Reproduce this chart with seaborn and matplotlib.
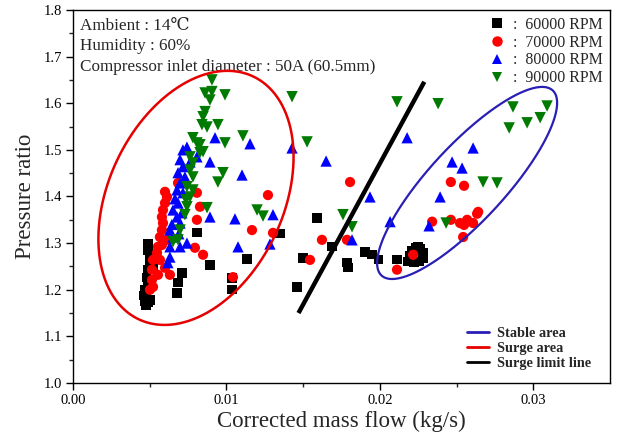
import numpy as np
import pandas as pd
import matplotlib
matplotlib.use("Agg")
import matplotlib.pyplot as plt
from matplotlib.lines import Line2D
import seaborn as sns

# ---------------- data ----------------
rpm_labels = ["60000 RPM", "70000 RPM", "80000 RPM", "90000 RPM"]

x_60k = [0.00489, 0.00489, 0.00502, 0.00502, 0.00489, 0.00482, 0.00489, 0.00469, 0.00482,
         0.00469, 0.00489, 0.00502, 0.00463, 0.00476, 0.00535, 0.00522, 0.00711, 0.00685,
         0.00678, 0.00808, 0.00893, 0.01134, 0.01037, 0.01037, 0.01350, 0.01500, 0.01460,
         0.01591, 0.01689, 0.01786, 0.01793, 0.01904, 0.01949, 0.01989, 0.02112, 0.02178,
         0.02197, 0.02210, 0.02236, 0.02262, 0.02282, 0.02282, 0.02256, 0.02223, 0.02249]
y_60k = [1.300, 1.285, 1.270, 1.258, 1.243, 1.227, 1.215, 1.200, 1.185,
         1.174, 1.172, 1.178, 1.187, 1.167, 1.275, 1.253, 1.236, 1.215,
         1.193, 1.322, 1.253, 1.266, 1.225, 1.200, 1.320, 1.268, 1.206,
         1.354, 1.292, 1.258, 1.247, 1.281, 1.275, 1.264, 1.264, 1.260,
         1.273, 1.283, 1.290, 1.288, 1.279, 1.268, 1.260, 1.258, 1.292]

x_70k = [0.00600, 0.00613, 0.00600, 0.00587, 0.00580, 0.00587, 0.00580, 0.00567, 0.00554,
         0.00548, 0.00522, 0.00515, 0.00515, 0.00522, 0.00502, 0.00567, 0.00600, 0.00554,
         0.00632, 0.00580, 0.00619, 0.00685, 0.00808, 0.00828, 0.00808, 0.01271, 0.01167,
         0.01304, 0.00795, 0.00848, 0.01043, 0.01806, 0.01623, 0.01545, 0.01786, 0.02112,
         0.02217, 0.02463, 0.02549, 0.02341, 0.02463, 0.02523, 0.02569, 0.02608, 0.02549,
         0.02634, 0.02641, 0.02543]
y_70k = [1.410, 1.399, 1.386, 1.371, 1.356, 1.343, 1.328, 1.313, 1.292,
         1.279, 1.264, 1.243, 1.221, 1.206, 1.200, 1.264, 1.247, 1.232,
         1.232, 1.296, 1.307, 1.429, 1.408, 1.378, 1.350, 1.403, 1.328,
         1.322, 1.290, 1.275, 1.227, 1.431, 1.307, 1.264, 1.307, 1.243,
         1.275, 1.431, 1.423, 1.346, 1.350, 1.343, 1.350, 1.343, 1.339,
         1.363, 1.367, 1.313]

x_80k = [0.00926, 0.00743, 0.00717, 0.01428, 0.00698, 0.00717, 0.00763, 0.00808, 0.00893,
         0.01102, 0.01154, 0.01650, 0.02178, 0.00685, 0.00698, 0.00678, 0.00717, 0.00685,
         0.00652, 0.00678, 0.00698, 0.00632, 0.00652, 0.00632, 0.00698, 0.00632, 0.00619,
         0.00893, 0.01056, 0.01304, 0.00743, 0.01076, 0.01284, 0.01936, 0.01819, 0.02067,
         0.02608, 0.02471, 0.02536, 0.02393, 0.02321, 0.00730, 0.00665, 0.00710, 0.00645,
         0.00690]
y_80k = [1.526, 1.506, 1.500, 1.504, 1.479, 1.464, 1.474, 1.485, 1.474,
         1.446, 1.513, 1.476, 1.526, 1.451, 1.429, 1.414, 1.408, 1.386,
         1.371, 1.356, 1.343, 1.328, 1.313, 1.292, 1.292, 1.270, 1.258,
         1.356, 1.352, 1.361, 1.300, 1.292, 1.298, 1.399, 1.307, 1.346,
         1.504, 1.474, 1.461, 1.399, 1.337, 1.442, 1.395, 1.365, 1.340,
         1.320]

x_90k = [0.00906, 0.00906, 0.00861, 0.00893, 0.00991, 0.01428, 0.00861, 0.00848, 0.00841,
         0.00874, 0.00945, 0.00782, 0.00808, 0.00828, 0.00991, 0.01108, 0.01526, 0.00763,
         0.00828, 0.00848, 0.00782, 0.00978, 0.00945, 0.00763, 0.00782, 0.00743, 0.00782,
         0.00763, 0.00737, 0.00743, 0.00874, 0.00730, 0.00698, 0.00685, 0.00652, 0.01200,
         0.01239, 0.01760, 0.01819, 0.02112, 0.02380, 0.02868, 0.03090, 0.02960, 0.03045,
         0.02843, 0.02673, 0.02764, 0.02432]
y_90k = [1.650, 1.625, 1.622, 1.607, 1.618, 1.614, 1.582, 1.571, 1.554,
         1.549, 1.554, 1.526, 1.515, 1.511, 1.515, 1.530, 1.517, 1.485,
         1.494, 1.496, 1.472, 1.451, 1.431, 1.457, 1.442, 1.421, 1.414,
         1.399, 1.393, 1.378, 1.376, 1.361, 1.328, 1.307, 1.303, 1.371,
         1.358, 1.361, 1.335, 1.603, 1.599, 1.592, 1.594, 1.558, 1.569,
         1.547, 1.431, 1.429, 1.343]

# surge limit line end points
surge_x = [0.0147, 0.0229]
surge_y = [1.150, 1.646]

# region ellipses: centre and two conjugate semi-axis vectors (data units)
surge_ell = dict(c=(0.00802, 1.397), a=(0.00205, 0.2725), b=(0.00602, 0.0))
stable_ell = dict(c=(0.02569, 1.429), a=(0.00489, 0.206), b=(0.00324, 0.0))

notes = ["Ambient : 14\u2103", "Humidity : 60%", "Compressor inlet diameter : 50A (60.5mm)"]
x_ticks = [0.00, 0.01, 0.02, 0.03]
y_ticks = [1.0, 1.1, 1.2, 1.3, 1.4, 1.5, 1.6, 1.7, 1.8]

# ---------------- style ----------------
sns.set_theme(style="ticks")
serif = ["Liberation Serif", "DejaVu Serif", "Noto Sans CJK JP"]
plt.rcParams["font.family"] = serif

fig = plt.figure(figsize=(6.18, 4.36), dpi=100)
ax = fig.add_axes([0.118, 0.1216, 0.869, 0.8555])

series = [
    (x_60k, y_60k, "s", "#000000", 44),
    (x_70k, y_70k, "o", "#ff0000", 54),
    (x_80k, y_80k, "^", "#0000ff", 66),
    (x_90k, y_90k, "v", "#007a00", 68),
]
handles = []
for (xs, ys, mk, col, s), lab in zip(series, rpm_labels):
    df = pd.DataFrame({"flow": xs, "pr": ys})
    sns.scatterplot(data=df, x="flow", y="pr", marker=mk, color=col, s=s,
                    edgecolor="none", linewidth=0, ax=ax, zorder=3, legend=False)
    handles.append(Line2D([], [], ls="none", marker=mk, color=col, markersize=7.5,
                          markeredgewidth=0))

t = np.linspace(0, 2 * np.pi, 400)
for e, col, lw in [(surge_ell, "#e60000", 1.8), (stable_ell, "#2a1fb5", 1.6)]:
    ex = e["c"][0] + e["a"][0] * np.cos(t) + e["b"][0] * np.sin(t)
    ey = e["c"][1] + e["a"][1] * np.cos(t) + e["b"][1] * np.sin(t)
    ax.plot(ex, ey, color=col, lw=lw, zorder=4)

ax.plot(surge_x, surge_y, color="black", lw=3.2, solid_capstyle="butt", zorder=4)

ax.set_xlim(0, 0.035)
ax.set_ylim(1.0, 1.8)
ax.set_xticks(x_ticks)
ax.set_yticks(y_ticks)
ax.set_xticklabels([f"{v:.2f}" for v in x_ticks])
ax.set_yticklabels([f"{v:.1f}" for v in y_ticks])
ax.set_xticks(np.arange(0.005, 0.035, 0.01), minor=True)
ax.set_yticks(np.arange(1.05, 1.8, 0.1), minor=True)
ax.tick_params(which="major", direction="out", length=5, width=1, labelsize=10.5,
               colors="black", pad=3)
ax.tick_params(which="minor", direction="out", length=3, width=1)
for sp in ax.spines.values():
    sp.set_visible(True)
    sp.set_color("black")
    sp.set_linewidth(1.0)

ax.set_xlabel("Corrected mass flow (kg/s)", fontsize=16.5, labelpad=3)
ax.set_ylabel("Pressure ratio", fontsize=16.5, labelpad=5)

for i, txt in enumerate(notes):
    ax.text(0.013, 0.957 - i * 0.0545, txt, transform=ax.transAxes, fontsize=12.3,
            va="center", ha="left", family=serif)

leg1 = ax.legend(handles, [":  " + l for l in rpm_labels], loc="upper right",
                 frameon=False, fontsize=11.4, handlelength=1.0, handletextpad=0.5,
                 labelspacing=0.12, borderaxespad=0.0, bbox_to_anchor=(0.998, 0.999))
ax.add_artist(leg1)

line_handles = [Line2D([], [], color="#2a1fb5", lw=2),
                Line2D([], [], color="#e60000", lw=2),
                Line2D([], [], color="black", lw=2)]
ax.legend(line_handles, ["Stable area", "Surge area", "Surge limit line"],
          loc="lower right", frameon=False, prop={"weight": "bold", "size": 10.3,
                                                  "family": serif},
          handlelength=1.5, handletextpad=0.55, labelspacing=0.12,
          bbox_to_anchor=(0.975, 0.02), borderaxespad=0.0)

fig.savefig("out.png", dpi=100)
